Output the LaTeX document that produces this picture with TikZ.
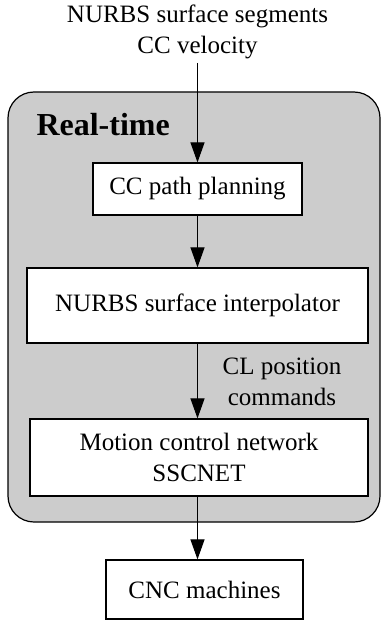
\documentclass[tikz,border=0pt]{standalone}
\usepackage{fontspec}
\setmainfont{Liberation Serif}
\usetikzlibrary{arrows.meta}
\begin{document}
\begin{tikzpicture}[x=1pt,y=-1pt,
  font=\fontsize{25}{31}\selectfont,
  stagebox/.style={draw, fill=white, line width=1.2pt, inner sep=0pt, align=center},
  flow/.style={line width=1.1pt, -{Triangle[length=20pt,width=14pt]}},
  realbg/.style={draw, fill=black!20, line width=1.2pt, rounded corners=26pt}]
\useasboundingbox (0,0) rectangle (382,623);
\path[realbg] (8,92) rectangle (380,522);
\node[align=center] (in) at (197.5,32) {NURBS surface segments\\CC velocity};
\coordinate (src) at (197.5,63);
\node[anchor=west, font=\fontsize{32}{38}\selectfont\bfseries] (rt) at (33,125) {Real-time};
\node[stagebox, minimum width=209pt, minimum height=52pt] (b1) at (197.5,189) {CC path planning};
\node[stagebox, minimum width=341pt, minimum height=75pt] (b2) at (197.5,305.5) {NURBS surface interpolator};
\node[stagebox, minimum width=338pt, minimum height=77pt] (b3) at (199,457.5) {Motion control network\\SSCNET};
\node[stagebox, minimum width=197pt, minimum height=59pt] (b4) at (204.5,589.5) {CNC machines};
\node[align=center] (cl) at (282,382) {CL position\\commands};
\draw[flow] (src) -- (src |- b1.north);
\draw[flow] (src |- b1.south) -- (src |- b2.north);
\draw[flow] (src |- b2.south) -- (src |- b3.north);
\draw[flow] (src |- b3.south) -- (src |- b4.north);
\end{tikzpicture}
\end{document}
